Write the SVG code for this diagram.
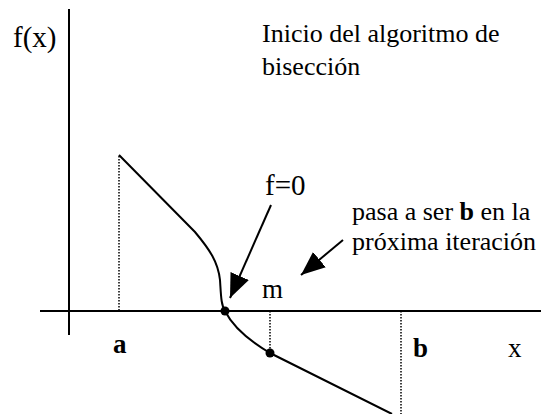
<svg xmlns="http://www.w3.org/2000/svg" width="541" height="414" viewBox="0 0 541 414">
<defs>
<marker id="ahb" viewBox="0 0 10 10" refX="10" refY="5" markerWidth="24" markerHeight="20" markerUnits="userSpaceOnUse" orient="auto" preserveAspectRatio="none">
<path d="M0,0 L10,5 L0,10 z" fill="#000"/>
</marker>
</defs>
<g id="axes" stroke="#000" stroke-width="2" fill="none">
<line x1="69" y1="9" x2="69" y2="335"/>
<line x1="40" y1="311" x2="541" y2="311"/>
</g>
<g id="guides" stroke="#000" stroke-width="1.5" stroke-dasharray="1.5,1.5" fill="none">
<line x1="119" y1="156" x2="119" y2="311"/>
<line x1="270" y1="311" x2="270" y2="353"/>
<line x1="401" y1="311" x2="401" y2="414"/>
</g>
<g id="function" stroke="#000" stroke-width="2" fill="none">
<path d="M119,155 L195,232 C210,250 218,262 220,280 C221,295 221,305 225,311 C232,325 248,340 270,353 L392,414"/>
</g>
<g id="root"><circle cx="225" cy="311" r="4.5" fill="#000"/></g>
<g id="midpoint"><circle cx="270" cy="353" r="4.5" fill="#000"/></g>
<g id="connectors" stroke="#000" stroke-width="2" fill="none">
<line x1="271" y1="205" x2="230" y2="298" marker-end="url(#ahb)"/>
<line x1="343" y1="240" x2="301" y2="275" marker-end="url(#ahb)"/>
</g>
<text x="13" y="47" font-size="29" style="font-family:'Liberation Serif',serif">f(x)</text>
<text x="262" y="42" font-size="26" style="font-family:'Liberation Serif',serif">Inicio del algoritmo de</text>
<text x="262" y="75" font-size="26" style="font-family:'Liberation Serif',serif">bisecci&#243;n</text>
<text x="265" y="195" font-size="29" style="font-family:'Liberation Serif',serif">f=0</text>
<text x="352" y="220" font-size="26" style="font-family:'Liberation Serif',serif">pasa a ser <tspan font-weight="bold">b</tspan> en la</text>
<text x="352" y="250" font-size="26" style="font-family:'Liberation Serif',serif">pr&#243;xima iteraci&#243;n</text>
<text x="262" y="298" font-size="27" style="font-family:'Liberation Serif',serif">m</text>
<text x="113" y="353" font-size="27" font-weight="bold" style="font-family:'Liberation Serif',serif">a</text>
<text x="413" y="357" font-size="27" font-weight="bold" style="font-family:'Liberation Serif',serif">b</text>
<text x="508" y="357" font-size="27" style="font-family:'Liberation Serif',serif">x</text>
</svg>
